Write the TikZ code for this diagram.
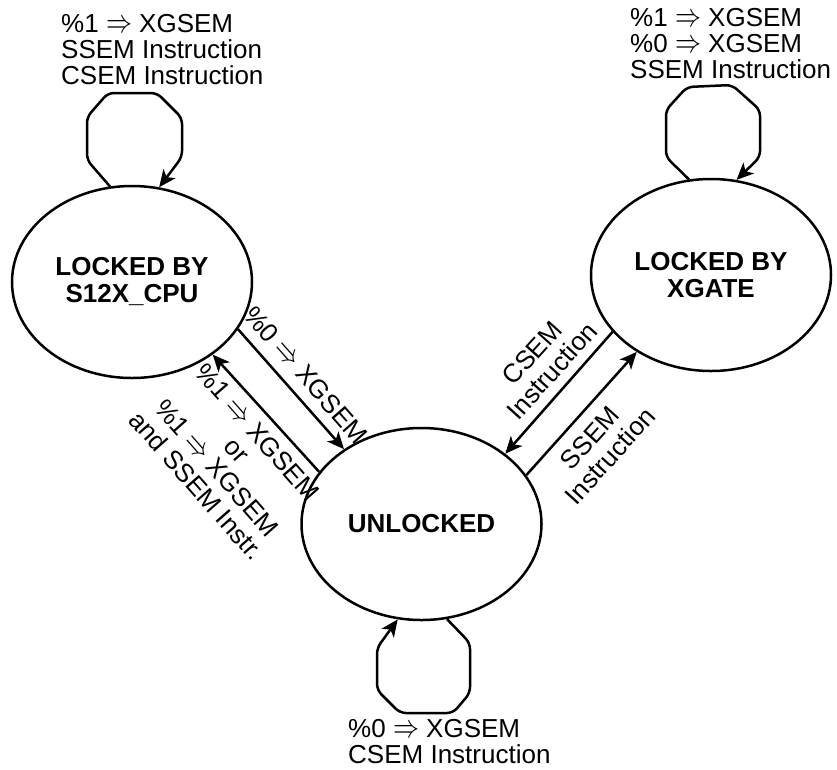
\documentclass[tikz,border=0pt]{standalone}
\usepackage{graphicx}
\usepackage{fontspec}
\setmainfont{Liberation Sans}
\usetikzlibrary{arrows.meta,shapes.geometric}
\newcommand{\impl}{\resizebox{26pt}{12pt}{$\Rightarrow$}}
\begin{document}
\begin{tikzpicture}[x=1pt,y=-1pt,
  state/.style={ellipse,draw,line width=2.5pt,minimum width=240pt,minimum height=192pt,inner sep=0pt,font=\fontsize{26}{27}\selectfont\bfseries,align=center},
  conn/.style={line width=2.5pt,-{Stealth[length=17pt,width=15pt,inset=4.5pt]}},
  loopline/.style={conn,rounded corners=6pt},
  lbl/.style={font=\fontsize{26}{26}\selectfont,inner sep=0pt},
  rlbl/.style={font=\fontsize{26}{27}\selectfont,inner sep=0pt},
]
\useasboundingbox (0,0) rectangle (837,769);

\node[state] (L) at (132,282) {LOCKED BY\\S12X\_CPU};
\node[state] (X) at (711,275) {LOCKED BY\\XGATE};
\node[state] (U) at (421.5,524) {UNLOCKED};

\draw[conn] (L.-24.8) -- (U.136.3);
\draw[conn] (U.153.9) -- (L.-42);
\draw[conn] (X.210.6) -- (U.40.4);
\draw[conn] (U.25.8) -- (X.226);

\draw[loopline] (L.103) -- (87,160) -- (87,117) -- (108,93) -- (157,93) -- (182,118) -- (182,157) -- (L.74);
\draw[loopline] (X.103) -- (666,157) -- (666,110) -- (687,87) -- (732,85) -- (760,110) -- (760,157) -- (X.75);
\draw[loopline] (U.-75) -- (470,643) -- (470,693) -- (453,713) -- (400,713) -- (377,690) -- (377,648) -- (U.-104);

\node[lbl,anchor=north west,align=left] (t1) at (61,14) {\%1 \impl{} XGSEM\\SSEM Instruction\\CSEM Instruction};
\node[lbl,anchor=north west,align=left] (t2) at (630,8) {\%1 \impl{} XGSEM\\\%0 \impl{} XGSEM\\SSEM Instruction};
\node[lbl,anchor=north west,align=left] (t3) at (348,719) {\%0 \impl{} XGSEM\\CSEM Instruction};

\node[rlbl,rotate=-48.7] (t4) at (306,375) {\%0 \impl{} XGSEM};
\node[rlbl,rotate=-48.7,align=center] (t5) at (227,459) {\%1 \impl{} XGSEM\\or\\\%1 \impl{} XGSEM\\and SSEM Instr.};
\node[rlbl,rotate=48,align=center] (t6) at (542,362) {CSEM\\Instruction};
\node[rlbl,rotate=48,align=center] (t7) at (600,447) {SSEM\\Instruction};
\end{tikzpicture}
\end{document}
